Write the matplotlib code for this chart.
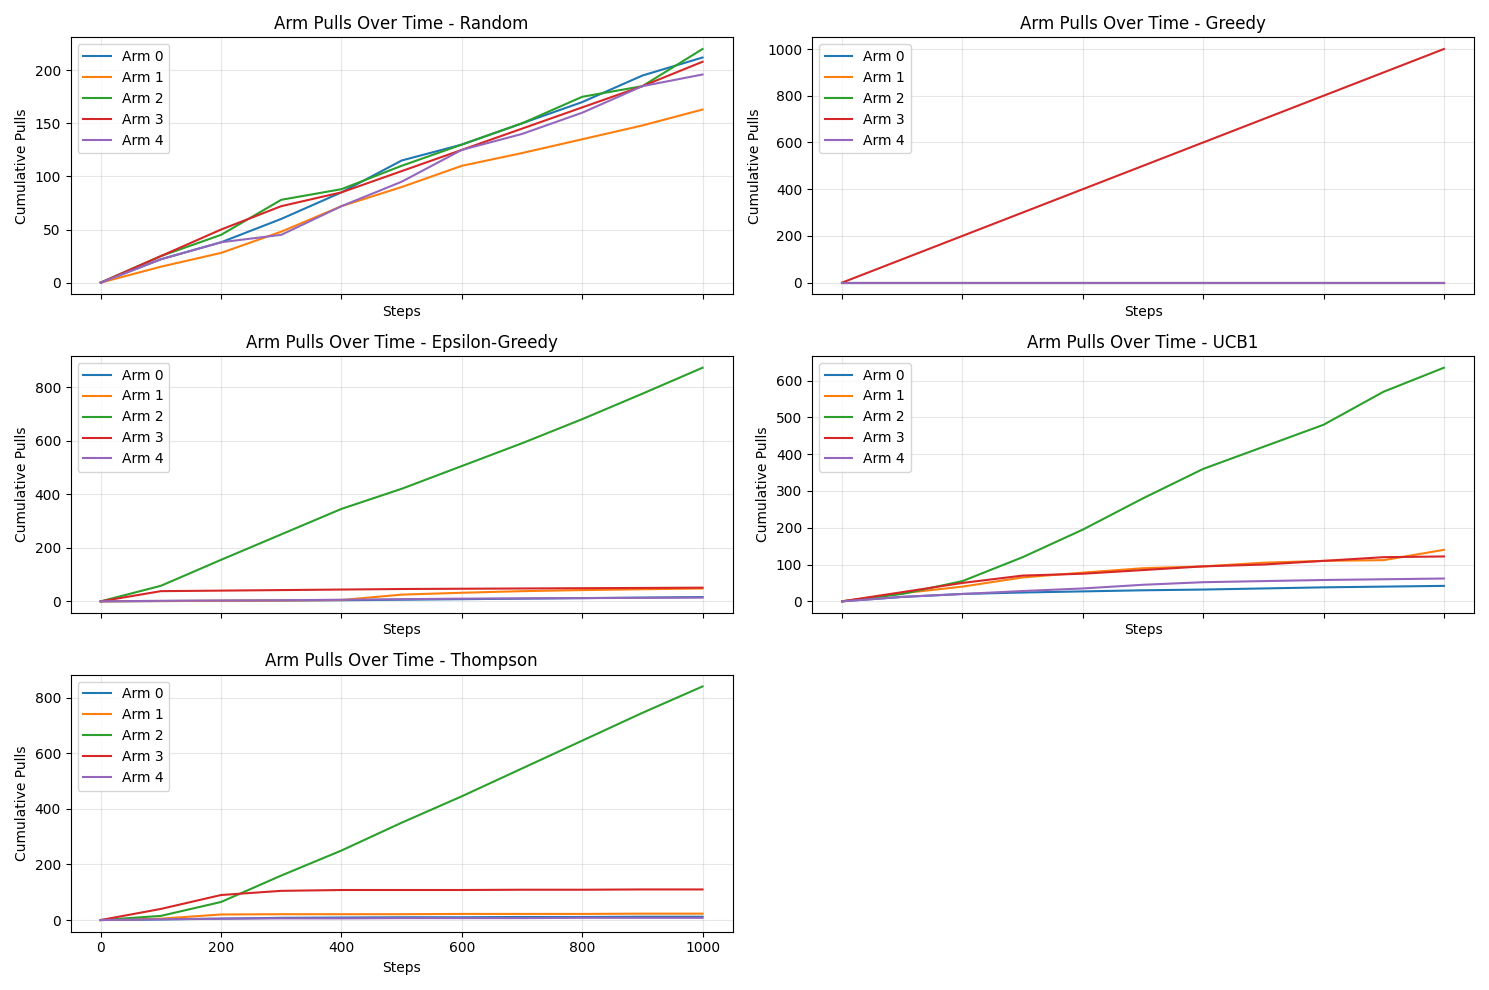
import matplotlib.pyplot as plt
import numpy as np
plt.rcdefaults()

# values read at every 100 steps
steps = [0, 100, 200, 300, 400, 500, 600, 700, 800, 900, 1000]

random_arms = [
    [0, 22, 38, 60, 85, 115, 130, 150, 170, 195, 212],
    [0, 15, 28, 48, 72, 90, 110, 122, 135, 148, 163],
    [0, 25, 45, 78, 88, 110, 130, 150, 175, 185, 220],
    [0, 25, 50, 72, 85, 105, 125, 145, 165, 185, 208],
    [0, 22, 38, 45, 72, 95, 125, 140, 160, 185, 196],
]
greedy_arms = [
    [0] * 11,
    [0] * 11,
    [0] * 11,
    [0, 100, 200, 300, 400, 500, 600, 700, 800, 900, 1000],
    [0] * 11,
]
epsilon_arms = [
    [0, 1, 2, 3, 4, 6, 8, 10, 12, 14, 16],
    [0, 1, 2, 3, 5, 25, 32, 38, 42, 45, 48],
    [0, 58, 155, 250, 345, 420, 505, 590, 680, 775, 872],
    [0, 38, 40, 42, 44, 46, 47, 48, 49, 50, 51],
    [0, 2, 3, 4, 6, 8, 10, 11, 12, 13, 14],
]
ucb_arms = [
    [0, 12, 20, 24, 27, 30, 32, 35, 38, 40, 42],
    [0, 22, 40, 65, 78, 90, 95, 105, 110, 112, 140],
    [0, 20, 55, 120, 195, 280, 360, 420, 480, 570, 635],
    [0, 25, 50, 70, 75, 85, 95, 100, 110, 120, 122],
    [0, 12, 20, 28, 35, 45, 52, 55, 58, 60, 62],
]
thompson_arms = [
    [0, 2, 5, 8, 9, 10, 10, 11, 11, 12, 12],
    [0, 5, 20, 21, 21, 21, 22, 22, 22, 23, 23],
    [0, 15, 65, 160, 250, 350, 445, 545, 645, 745, 840],
    [0, 40, 90, 105, 108, 108, 108, 109, 109, 110, 110],
    [0, 3, 5, 6, 6, 7, 7, 7, 8, 8, 8],
]

strategies = ['Random', 'Greedy', 'Epsilon-Greedy', 'UCB1', 'Thompson']
all_arms = [random_arms, greedy_arms, epsilon_arms, ucb_arms, thompson_arms]

fig, axes = plt.subplots(3, 2, figsize=(14.89, 9.9), dpi=100, sharex=True)
axes = axes.flatten()

for i in range(len(strategies)):
    ax = axes[i]
    for j in range(5):
        ax.plot(steps, all_arms[i][j], label='Arm ' + str(j))
    ax.set_title('Arm Pulls Over Time - ' + strategies[i])
    ax.set_xlabel('Steps')
    ax.set_ylabel('Cumulative Pulls')
    ax.legend(loc='upper left')
    ax.grid(True, alpha=0.3)
    ax.xaxis.set_tick_params(labelbottom=(i == 4))

axes[5].axis('off')
plt.tight_layout()
plt.savefig('out.png')
